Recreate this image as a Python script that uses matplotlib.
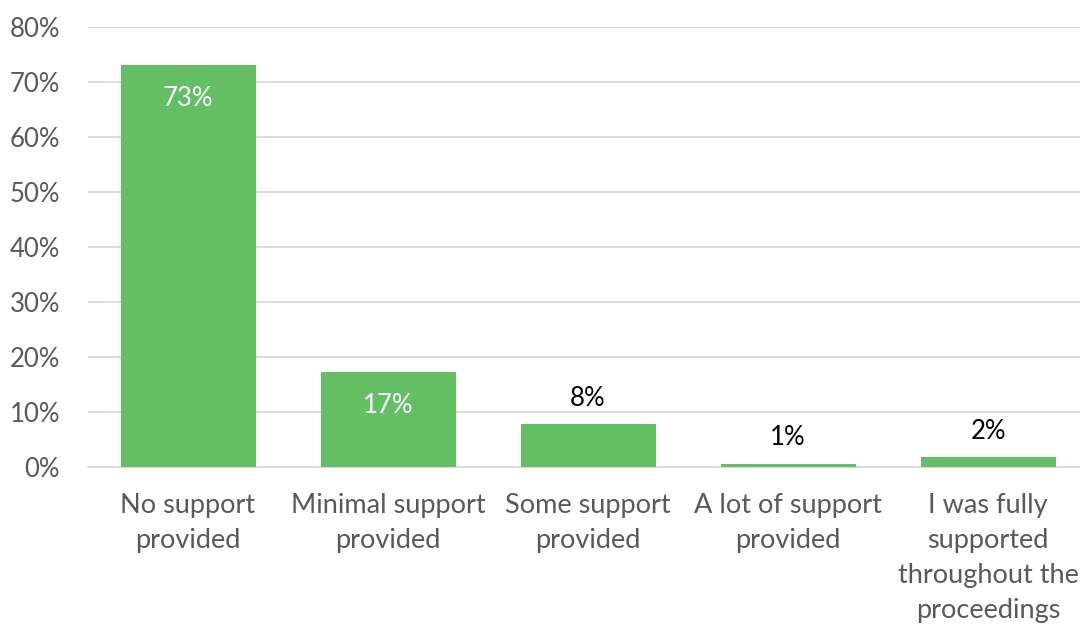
import numpy as np
import matplotlib.pyplot as plt
from matplotlib.ticker import PercentFormatter

# 数据
categories = ["No support\nprovided", "Minimal support\nprovided", "Some support\nprovided",
              "A lot of support\nprovided", "I was fully\nsupported\nthroughout the\nproceedings"]
shares = [0.73, 0.173, 0.078, 0.006, 0.018]
inside_label = [True, True, False, False, False]

BAR_COLOR = "#63BE64"
TEXT_COLOR = "#595959"
FS = 18.5

plt.rcParams['font.family'] = ['Lato', 'DejaVu Sans']

fig = plt.figure(figsize=(10.8, 6.26), dpi=100)
ax = fig.add_axes([0.0815, 0.254, 0.926, 0.703])

x = np.arange(len(categories))
ax.bar(x, shares, width=0.675, color=BAR_COLOR, zorder=3)

# 数值标签
for xi, v, inside in zip(x, shares, inside_label):
    if inside:
        ax.text(xi, v - 0.038, f"{v:.0%}", ha='center', va='top', color='white', fontsize=FS)
    else:
        ax.text(xi, v + 0.024, f"{v:.0%}", ha='center', va='bottom', color='black', fontsize=FS)

ax.set_xlim(-0.5, len(categories) - 0.5)
ax.set_ylim(0, 0.8)
ax.set_yticks(np.arange(0, 0.81, 0.1))
ax.yaxis.set_major_formatter(PercentFormatter(1.0, decimals=0))
ax.set_xticks(x)
ax.set_xticklabels(categories, linespacing=1.5, fontsize=19.5)

ax.grid(axis='y', color='#D9D9D9', linewidth=1.3, zorder=0)
for side in ['top', 'right', 'left']:
    ax.spines[side].set_visible(False)
ax.spines['bottom'].set_color('#D9D9D9')
ax.spines['bottom'].set_linewidth(1.3)
ax.tick_params(axis='both', length=0, labelsize=FS, colors=TEXT_COLOR)
ax.tick_params(axis='x', pad=19, labelsize=19.5)
ax.tick_params(axis='y', pad=20)

fig.savefig("out.png", dpi=100)
